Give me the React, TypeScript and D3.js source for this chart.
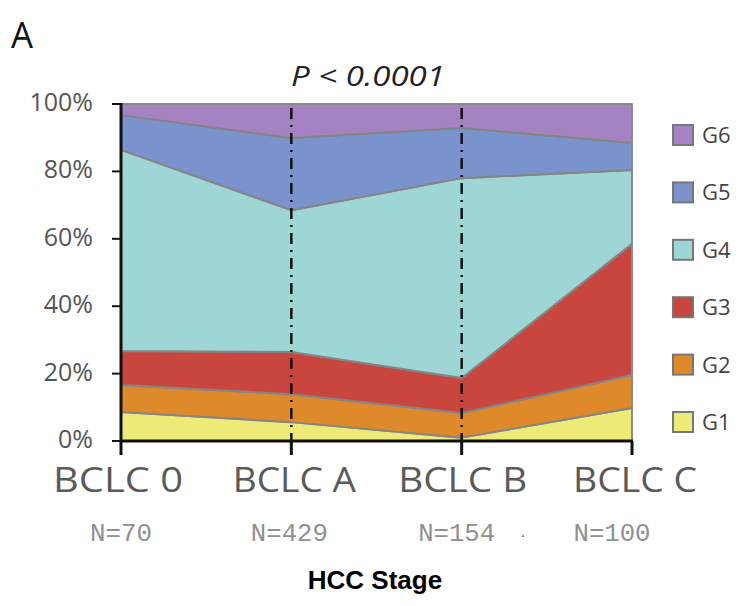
import React from 'react';
import * as d3 from 'd3';

// HCC stage categories and their sample sizes
const stages = ['BCLC 0', 'BCLC A', 'BCLC  B', 'BCLC C'];
const counts = ['N=70', 'N=429', 'N=154', 'N=100'];

// percentage of each group per stage
const groups = ['G1', 'G2', 'G3', 'G4', 'G5', 'G6'];
const g1 = [8.6, 5.6, 1.0, 9.8];
const g2 = [8.0, 8.3, 7.3, 9.8];
const g3 = [10.1, 12.5, 10.4, 38.9];
const g4 = [59.7, 42.1, 59.3, 21.9];
const g5 = [10.3, 21.4, 14.9, 8.0];
const g6 = [3.3, 10.1, 7.1, 11.6];
const colors = ['#eeea78', '#df8a2a', '#c9463f', '#9dd6d4', '#7b93cc', '#a582c2'];
const yTicks = [0, 20, 40, 60, 80, 100];

const W = 750, H = 606;
const M = { left: 121, right: 632, top: 104, bottom: 441 };

export default function App() {
  const values = [g1, g2, g3, g4, g5, g6];
  const rows = stages.map((s, i) => {
    const r: any = { stage: s };
    groups.forEach((g, k) => (r[g] = values[k][i]));
    return r;
  });
  const series = d3.stack().keys(groups).offset(d3.stackOffsetExpand)(rows);

  const x = d3.scalePoint().domain(stages).range([M.left, M.right]);
  const y = d3.scaleLinear().domain([0, 1]).range([M.bottom, M.top]);
  const area = d3.area<any>()
    .x((d) => x(d.data.stage) as number)
    .y0((d) => y(d[0]))
    .y1((d) => y(d[1]));

  // small nudges so labels sit where the original put them
  const labelShift = [-3, 3, 1, 3];
  const countShift = [0, -2, -5, -20];

  return (
    <svg width={W} height={H} style={{ position: 'absolute', left: 0, top: 0, background: '#fff' }}>
      <text x={11} y={48} fontFamily="'Open Sans', sans-serif" fontSize={36} fill="#111"
        textLength={22} lengthAdjust="spacingAndGlyphs">A</text>
      <text x={368} y={86} textAnchor="middle" fontFamily="'Open Sans', sans-serif" fontStyle="italic" fontSize={27} fill="#222"
        textLength={154} lengthAdjust="spacingAndGlyphs">P &lt; 0.0001</text>

      {series.map((s, k) => (
        <path key={groups[k]} d={area(s as any) || ''} fill={colors[k]} stroke="#858585" strokeWidth={2} strokeLinejoin="round" />
      ))}

      {/* plot frame */}
      <line x1={M.left} x2={M.right} y1={M.top} y2={M.top} stroke="#8a8a8a" strokeWidth={2} />
      <line x1={M.right} x2={M.right} y1={M.top} y2={M.bottom} stroke="#8a8a8a" strokeWidth={2} />

      {/* dash-dot separators */}
      {stages.slice(1, 3).map((s) => (
        <line key={s} x1={x(s)} x2={x(s)} y1={M.top + 4} y2={M.bottom} stroke="#111" strokeWidth={2.5} strokeDasharray="11 6 2 6" />
      ))}

      {/* y axis */}
      <line x1={M.left} x2={M.left} y1={M.top - 1} y2={M.bottom + 1} stroke="#111" strokeWidth={3} />
      {yTicks.map((t) => (
        <g key={t}>
          <line x1={M.left - 9} x2={M.left} y1={y(t / 100)} y2={y(t / 100)} stroke="#111" strokeWidth={2} />
          <text x={93} y={y(t / 100) + 7} textAnchor="end" fontFamily="'Open Sans', sans-serif" fontSize={25} fill="#555">{t}%</text>
        </g>
      ))}

      {/* x axis */}
      <line x1={M.left - 1} x2={M.right + 1} y1={M.bottom} y2={M.bottom} stroke="#111" strokeWidth={3} />
      {stages.map((s, i) => (
        <g key={s}>
          <line x1={x(s)} x2={x(s)} y1={M.bottom} y2={M.bottom + 14} stroke="#111" strokeWidth={3} />
          <text x={(x(s) as number) + labelShift[i]} y={492} textAnchor="middle" fontFamily="'Open Sans', sans-serif" fontSize={34} fill="#5a5a5a"
            textLength={[130, 123, 129, 124][i]} lengthAdjust="spacingAndGlyphs">{s.replace('  ', ' ')}</text>
          <text x={(x(s) as number) + countShift[i]} y={541} textAnchor="middle" fontFamily="'Liberation Mono', monospace" fontSize={25} fill="#909090"
            textLength={[62, 77, 77, 77][i]} lengthAdjust="spacingAndGlyphs">{counts[i]}</text>
        </g>
      ))}
      <text x={523} y={541} textAnchor="middle" fontFamily="'DejaVu Sans', sans-serif" fontSize={14} fill="#555">·</text>

      <text x={375} y={589} textAnchor="middle" fontFamily="'Liberation Sans', Arial, sans-serif" fontWeight="bold" fontSize={26} fill="#000">HCC Stage</text>

      {/* legend, top to bottom G6..G1 */}
      {groups.slice().reverse().map((g, j) => {
        const k = groups.length - 1 - j;
        const cy = 135 + j * 57.4;
        return (
          <g key={g}>
            <rect x={673} y={cy - 10} width={20} height={20} fill={colors[k]} stroke="#777" strokeWidth={2} />
            <text x={702} y={cy + 8} fontFamily="'Open Sans', sans-serif" fontSize={22} fill="#444">{g}</text>
          </g>
        );
      })}
    </svg>
  );
}
